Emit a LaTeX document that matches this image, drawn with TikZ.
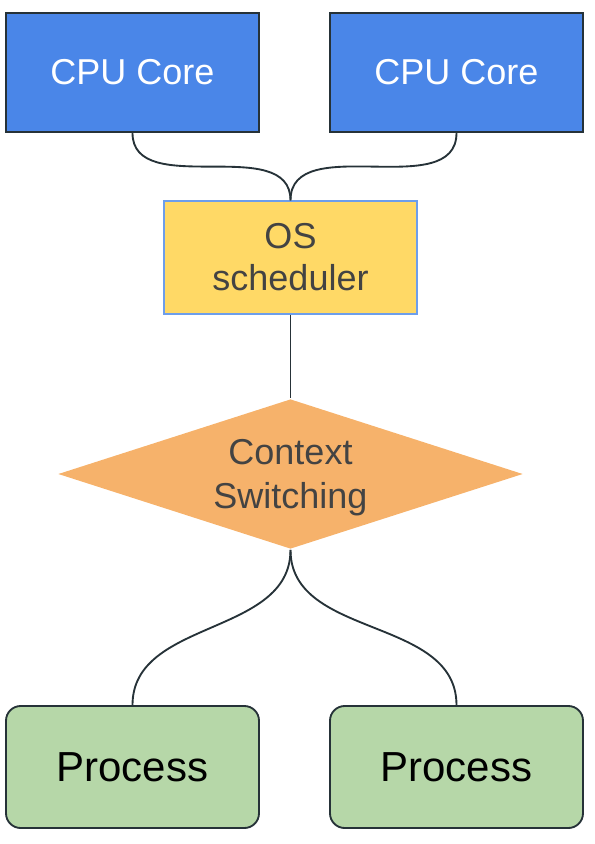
\documentclass[tikz,border=0pt]{standalone}
\usepackage{fontspec}
\setmainfont{Liberation Sans}
\usetikzlibrary{shapes.geometric}

\definecolor{coreblue}{HTML}{4A86E8}
\definecolor{schedyellow}{HTML}{FFD966}
\definecolor{schedborder}{HTML}{6D9EEB}
\definecolor{switchorange}{HTML}{F6B26B}
\definecolor{procgreen}{HTML}{B6D7A8}
\definecolor{darkline}{HTML}{263238}
\definecolor{darktext}{HTML}{434343}

\begin{document}
\begin{tikzpicture}[x=0.75pt, y=-0.75pt,
    every path/.style={line width=1.4pt},
    core/.style={rectangle, draw=darkline, fill=coreblue, text=white, minimum width=189.75pt, minimum height=89.25pt, inner sep=0pt, font=\fontsize{27}{32}\selectfont},
    sched/.style={rectangle, draw=schedborder, line width=1.1pt, fill=schedyellow, text=darktext, minimum width=189.75pt, minimum height=84.75pt, inner sep=0pt, align=center, font=\fontsize{27}{31.5}\selectfont},
    switch/.style={diamond, draw=none, fill=switchorange, text=darktext, aspect=3.1, minimum width=348.75pt, minimum height=112.5pt, inner sep=0pt, text depth=0pt, align=center, font=\fontsize{27}{33}\selectfont},
    proc/.style={rectangle, rounded corners=11pt, draw=darkline, fill=procgreen, text=black, minimum width=189.75pt, minimum height=91.5pt, inner sep=0pt, font=\fontsize{31.5}{36}\selectfont},
    wire/.style={draw=darkline, line width=1.4pt}]

    \useasboundingbox (0,0) rectangle (594,844);

    \node[core] (coreA) at (132.5,72.5) {CPU Core};
    \node[core] (coreB) at (456.5,72.5) {CPU Core};

    \node[sched] (os) at (290.5,257.5) {OS\\scheduler};

    \node[switch] (cs) at (290.5,474) {Context\\Switching};

    \node[proc] (procA) at (132.5,767) {Process};
    \node[proc] (procB) at (456.5,767) {Process};

    % links
    \draw[wire] (coreA.south) to[out=-90, in=90] (os.north);
    \draw[wire] (coreB.south) to[out=-90, in=90] (os.north);
    \draw[wire] (os.south) -- (cs.north);
    \draw[wire] (cs.south) to[out=-90, in=90] (procA.north);
    \draw[wire] (cs.south) to[out=-90, in=90] (procB.north);

\end{tikzpicture}
\end{document}
